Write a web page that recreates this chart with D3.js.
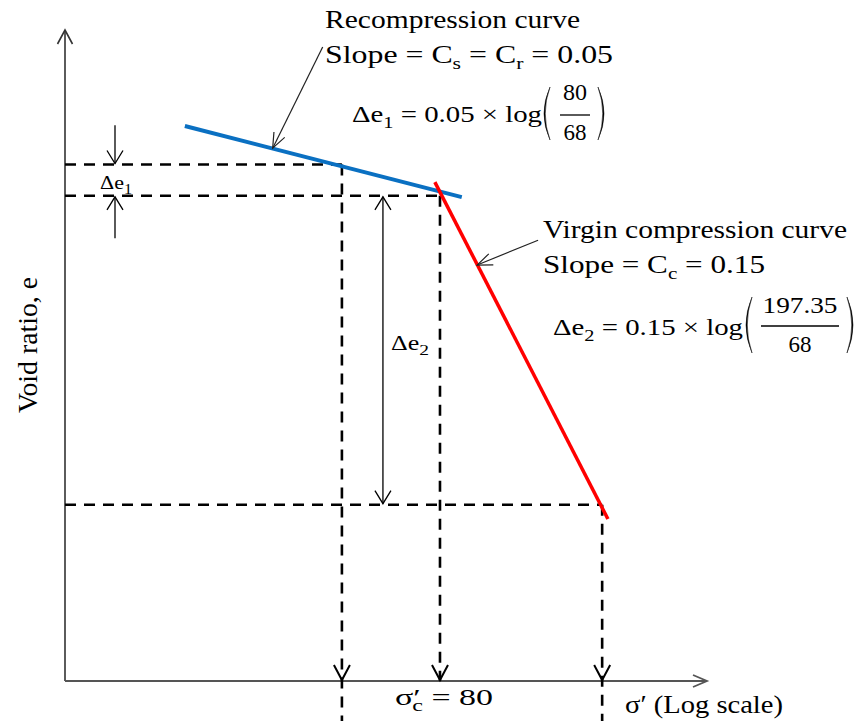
<!DOCTYPE html>
<html><head><meta charset="utf-8">
<script src="https://cdn.jsdelivr.net/npm/d3@7"></script>
<style>body{margin:0;background:#fff} svg{display:block}</style>
</head><body><svg id="c" width="860" height="721"></svg>
<script>
// Schematic e – log σ' diagram, coordinates in schematic units (0..100)
const stressValues = [68, 80, 197.35];          // σ'0, σ'c, σ'f
const stressPositions = [43.2, 58.5, 83.8];      // schematic log σ' positions
const voidRatioLevels = [79.1, 74.3, 27.0];      // e0, ec, ef (schematic)
const guideBelowAxis = [true, false, true];
const recompressionCurve = [[18.7, 85.0], [61.9, 74.1]];
const virginCurve = [[57.7, 76.4], [84.7, 24.8]];
const deltaE1Top = 85.1, deltaE1Bottom = 67.8, deltaE1X = 7.8;
const deltaE2X = 49.6;
const recompLeader = [[40.2, 97.1], [32.4, 81.6]];
const virginLeader = [[73.8, 67.5], [64.3, 63.7]];

const svg = d3.select("#c");
const x = d3.scaleLinear().domain([0, 100]).range([65, 706]);
const y = d3.scaleLinear().domain([0, 100]).range([681, 28]);
const FONT = "'Liberation Serif','Times New Roman',serif";
const line = d3.line().x(d => x(d[0])).y(d => y(d[1]));

function vArrow(g, tip, from, len, hw, color, sw) {
  const dx = tip[0]-from[0], dy = tip[1]-from[1];
  const L = Math.hypot(dx, dy), ux = dx/L, uy = dy/L;
  const bx = tip[0]-ux*len, by = tip[1]-uy*len, px = -uy, py = ux;
  g.append("path")
    .attr("d", `M${bx+px*hw},${by+py*hw}L${tip[0]},${tip[1]}L${bx-px*hw},${by-py*hw}`)
    .attr("fill", "none").attr("stroke", color).attr("stroke-width", sw)
    .attr("stroke-linejoin", "miter");
}

// axes
const axes = svg.append("g");
axes.append("line").attr("x1", x(0)).attr("y1", y(0)).attr("x2", x(0)).attr("y2", y(100) + 2)
  .attr("stroke", "#333").attr("stroke-width", 1.6);
vArrow(axes, [x(0), y(100) + 2], [x(0), y(0)], 14, 7.5, "#333", 1.6);
axes.append("line").attr("x1", x(0)).attr("y1", y(0)).attr("x2", x(100) + 1).attr("y2", y(0))
  .attr("stroke", "#555").attr("stroke-width", 2);
vArrow(axes, [x(100) + 1, y(0)], [x(0), y(0)], 14, 6, "#555", 1.8);

// dashed guides
const guides = svg.append("g").attr("stroke", "#000").attr("stroke-width", 2.6)
  .attr("stroke-dasharray", "11,8").attr("fill", "none");
stressPositions.forEach((sx, i) => {
  guides.append("line").attr("x1", x(0)).attr("x2", x(sx))
    .attr("y1", y(voidRatioLevels[i])).attr("y2", y(voidRatioLevels[i]));
  const yEnd = guideBelowAxis[i] ? 721 : y(0);
  guides.append("line").attr("x1", x(sx)).attr("x2", x(sx))
    .attr("y1", y(voidRatioLevels[i])).attr("y2", yEnd);
});
stressPositions.forEach(sx => vArrow(svg, [x(sx), y(0) - 1], [x(sx), y(50)], 15, 8, "#000", 2));

// curves
svg.append("path").datum(recompressionCurve).attr("d", line)
  .attr("stroke", "#0a70c2").attr("stroke-width", 4).attr("fill", "none");
svg.append("path").datum(virginCurve).attr("d", line)
  .attr("stroke", "#ff0000").attr("stroke-width", 3.5).attr("fill", "none");

// Δe arrows
const ann = svg.append("g");
function arrowLine(p0, p1, heads) {
  ann.append("line").attr("x1", p0[0]).attr("y1", p0[1]).attr("x2", p1[0]).attr("y2", p1[1])
    .attr("stroke", "#000").attr("stroke-width", 1.3);
  if (heads.includes("end")) vArrow(ann, p1, p0, 13, 8, "#000", 1.3);
  if (heads.includes("start")) vArrow(ann, p0, p1, 13, 8, "#000", 1.3);
}
arrowLine([x(deltaE1X), y(deltaE1Top)], [x(deltaE1X), y(voidRatioLevels[0]) - 1], ["end"]);
arrowLine([x(deltaE1X), y(deltaE1Bottom)], [x(deltaE1X), y(voidRatioLevels[1]) + 1], ["end"]);
arrowLine([x(deltaE2X), y(voidRatioLevels[1]) + 1], [x(deltaE2X), y(voidRatioLevels[2]) - 1], ["start", "end"]);
[recompLeader, virginLeader].forEach(l => {
  const p0 = [x(l[0][0]), y(l[0][1])], p1 = [x(l[1][0]), y(l[1][1])];
  ann.append("line").attr("x1", p0[0]).attr("y1", p0[1]).attr("x2", p1[0]).attr("y2", p1[1])
    .attr("stroke", "#222").attr("stroke-width", 1.2);
  vArrow(ann, p1, p0, 15, 6, "#222", 1.2);
});

// text helpers
function txt(xp, yp, size, parts, len) {
  const t = svg.append("text").attr("x", xp).attr("y", yp)
    .attr("font-family", FONT).attr("font-size", size).attr("fill", "#000");
  parts.forEach(p => {
    if (typeof p === "string") t.append("tspan").text(p);
    else {
      const s = t.append("tspan").text(p.t);
      if (p.dy) s.attr("dy", p.dy);
      if (p.dx) s.attr("dx", p.dx);
      if (p.fs) s.attr("font-size", p.fs);
    }
  });
  if (len) t.attr("textLength", len).attr("lengthAdjust", "spacingAndGlyphs");
  return t;
}
function paren(xp, y0, y1, dir) {
  const m = (y0 + y1) / 2;
  const o = dir * 12, i = dir * 9.5;
  svg.append("path")
    .attr("d", `M${xp},${y0} Q${xp - o},${m} ${xp},${y1} Q${xp - i},${m} ${xp},${y0}Z`)
    .attr("fill", "#000").attr("stroke", "#000").attr("stroke-width", 0.5);
}
function frac(cx, num, den, yNum, yBar, yDen, w, size, numLen) {
  const n = svg.append("text").attr("x", cx).attr("y", yNum).attr("text-anchor", "middle")
    .attr("font-family", FONT).attr("font-size", size).text(num);
  if (numLen) n.attr("textLength", numLen).attr("lengthAdjust", "spacingAndGlyphs");
  svg.append("line").attr("x1", cx - w/2).attr("x2", cx + w/2).attr("y1", yBar).attr("y2", yBar)
    .attr("stroke", "#000").attr("stroke-width", 1.3);
  svg.append("text").attr("x", cx).attr("y", yDen).attr("text-anchor", "middle")
    .attr("font-family", FONT).attr("font-size", size).text(den);
}

// Recompression annotation
txt(325, 28, 25, ["Recompression curve"], 255);
txt(325, 63, 25, ["Slope = C", {t: "s", dy: 6, fs: 17}, {t: " = C", dy: -6}, {t: "r", dy: 6, fs: 17}, {t: " = 0.05", dy: -6}], 288);
txt(352, 122, 24, ["Δe", {t: "1", dy: 6, fs: 17}, {t: " = 0.05 × log", dy: -6}], 190);
paren(550, 87, 140, 1);
frac(575, String(stressValues[1]), String(stressValues[0]), 100, 115, 140, 30, 23, 24);
paren(598, 87, 140, -1);

// Virgin annotation
txt(543, 238, 25, ["Virgin compression curve"], 304);
txt(543, 273, 25, ["Slope = C", {t: "c", dy: 6, fs: 17}, {t: " = 0.15", dy: -6}], 222);
txt(553, 335, 24, ["Δe", {t: "2", dy: 6, fs: 17}, {t: " = 0.15 × log", dy: -6}], 190);
paren(752, 297, 353, 1);
frac(800, String(stressValues[2]), String(stressValues[0]), 313, 326, 352, 78, 23, 75);
paren(847, 297, 353, -1);

// Δe labels
txt(100, 189, 19, ["Δe", {t: "1", dy: 5, fs: 14}], 32);
txt(391, 350, 20, ["Δe", {t: "2", dy: 5, fs: 15}], 38);

// axis labels
txt(395, 705, 24, ["σ′", {t: "c", dx: -6, dy: 6, fs: 17}, {t: " = 80", dy: -6}], 98);
txt(625, 713, 25, ["σ′ (Log scale)"], 158);
svg.append("text").attr("transform", "translate(37,413) rotate(-90)")
  .attr("font-family", FONT).attr("font-size", 27).attr("textLength", 136)
  .attr("lengthAdjust", "spacingAndGlyphs").text("Void ratio, e");
</script></body></html>
